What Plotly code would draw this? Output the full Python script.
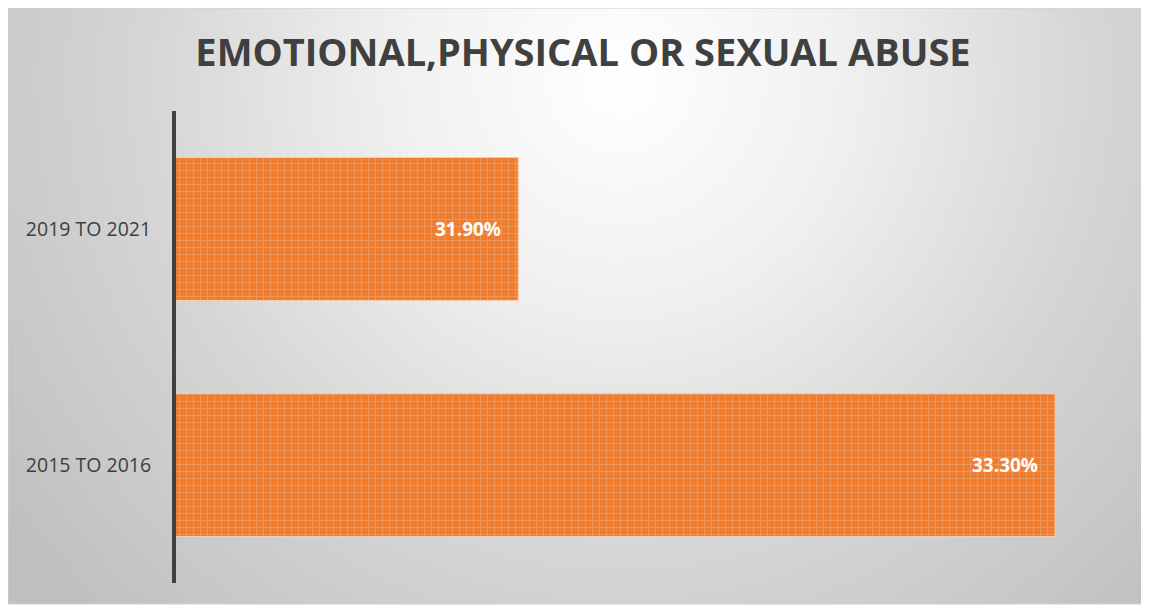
import base64
import plotly.graph_objects as go

categories = ["2015 TO 2016", "2019 TO 2021"]
values = [33.30, 31.90]
labels = ["33.30%", "31.90%"]
title_text = "EMOTIONAL,PHYSICAL OR SEXUAL ABUSE"

W, H = 1149, 607
L, R, T, B = 168, 25, 103, 32
pw, ph = W - L - R, H - T - B

svg = """<svg xmlns='http://www.w3.org/2000/svg' width='1139' height='598' viewBox='0 0 1139 598' preserveAspectRatio='none'>
<defs><radialGradient id='g' cx='612' cy='72' r='750' gradientUnits='userSpaceOnUse'>
<stop offset='0' stop-color='#ffffff'/><stop offset='0.3' stop-color='#f0f0f0'/>
<stop offset='0.64' stop-color='#d5d5d5'/><stop offset='0.85' stop-color='#c9c9c9'/>
<stop offset='1' stop-color='#c0c0c0'/></radialGradient></defs>
<rect x='0' y='0' width='1139' height='598' fill='url(#g)'/></svg>"""
src = "data:image/svg+xml;base64," + base64.b64encode(svg.encode()).decode()

fig = go.Figure()
fig.add_trace(go.Bar(
    y=categories, x=values, orientation="h",
    marker=dict(color="#ED7D31",
                line=dict(color="#F8CBAD", width=1),
                pattern=dict(shape="+", fgcolor="#F4B183", bgcolor="#ED7D31",
                             size=7, solidity=0.25, fillmode="overlay")),
    hoverinfo="skip",
))
for c, v, t in zip(categories, values, labels):
    fig.add_annotation(x=v, y=c, xref="x", yref="y", text="<b>" + t + "</b>",
                       showarrow=False, xanchor="right", xshift=-15,
                       font=dict(family="Open Sans", size=19, color="#ffffff"))

x0 = (0 - L) / pw
x1 = (1139 - L) / pw
ytop = (H - B - 0) / ph
ybot = (H - B - 596) / ph
fig.add_layout_image(dict(source=src, xref="paper", yref="paper", x=x0, y=ytop,
                          sizex=x1 - x0, sizey=ytop - ybot, sizing="stretch",
                          xanchor="left", yanchor="top", layer="below"))

fig.update_layout(
    width=W, height=H,
    margin=dict(l=L, r=R, t=T, b=B),
    paper_bgcolor="#ffffff", plot_bgcolor="rgba(0,0,0,0)",
    bargap=0.394,
    showlegend=False,
    title=dict(text="<b>" + title_text + "</b>", x=575 / W, xanchor="center",
               y=1 - 45 / H, yanchor="middle",
               font=dict(family="Open Sans", size=38, color="#404040")),
    xaxis=dict(range=[31.008, 33.5], visible=False, showgrid=False, zeroline=False, fixedrange=True),
    yaxis=dict(showline=True, linecolor="#404040", linewidth=4, ticks="",
               showgrid=False, ticklabelstandoff=17,
               tickfont=dict(family="Open Sans", size=19.5, color="#404040")),
)
fig.add_shape(type="rect", xref="paper", yref="paper", x0=x0, x1=x1, y0=ybot, y1=ytop,
              line=dict(color="#d0d0d0", width=1), layer="below")
fig.write_html("out.html")
